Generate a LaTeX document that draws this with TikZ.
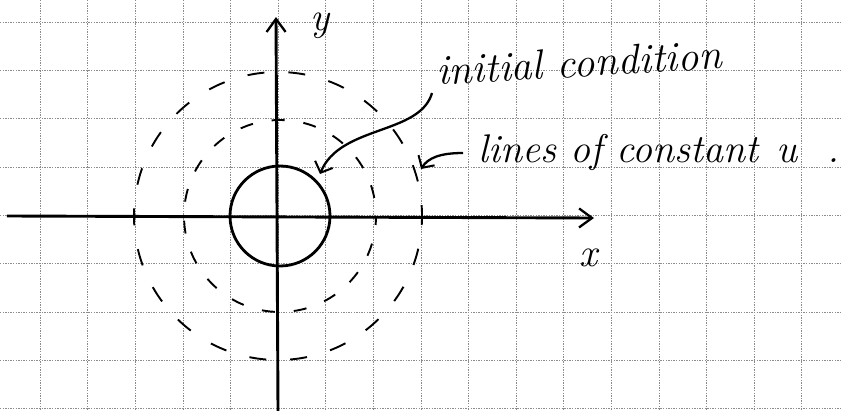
\documentclass[tikz,border=0pt]{standalone}
\usetikzlibrary{arrows.meta}
\begin{document}
\begin{tikzpicture}[x=1pt,y=-1pt,
  gridline/.style={black!45,line width=0.6pt,dash pattern=on 1.4pt off 1.2pt},
  axis/.style={line width=2.9pt,-{Straight Barb[length=13pt,width=19pt,line width=2.3pt]}},
  solidcirc/.style={line width=2.8pt},
  dashcirc/.style={line width=1.9pt},
  pointer/.style={line width=2.3pt,-{Straight Barb[length=9pt,width=19pt,line width=2pt]}},
  hand/.style={inner sep=0pt,font=\fontsize{40}{46}\selectfont\itshape}]
\useasboundingbox (0,0) rectangle (842,411);
\fill[white] (0,0) rectangle (842,411);
% grid
\foreach \k in {0,...,8}
  \draw[gridline] (0,{22+48.3*\k}) -- (842,{22+48.3*\k});
\foreach \k in {0,...,16}
  \draw[gridline] ({40+47.6*\k},0) -- ({40+47.6*\k},411);
% axes
\coordinate (xs) at (7,216);
\coordinate (xe) at (594,218);
\coordinate (ys) at (278,411);
\coordinate (ye) at (276,17);
\draw[axis] (xs) -- (xe);
\draw[axis] (ys) -- (ye);
% circles
\coordinate (O) at (280,216);
\draw[solidcirc] (O) circle[radius=50];
\draw[dashcirc,dash pattern=on 13pt off 19pt,dash phase=4pt] (O) circle[radius=96];
\draw[dashcirc,dash pattern=on 17pt off 24pt,dash phase=8pt] (278,216) circle[radius=144];
% labels
\node[hand,anchor=base] (ylab) at (320,31) {y};
\node[hand,anchor=base] (xlab) at (588,267) {x};
\node[hand,anchor=base west,rotate=3.3,font=\fontsize{42}{48}\selectfont\itshape] (ic) at (437,85) {initial condition};
\node[hand,anchor=base west] (lc) at (478,163) {lines of constant\hspace{18pt}u\hspace{30pt}.};
% pointers
\coordinate (icstart) at (432,93);
\coordinate (ictip) at (320,174);
\draw[pointer] (icstart) .. controls (420,135) and (340,125) .. (ictip);
\coordinate (lcstart) at (463,153);
\coordinate (lctip) at (421,169);
\draw[pointer] (lcstart) .. controls (440,153) and (428,158) .. (lctip);
\end{tikzpicture}
\end{document}
